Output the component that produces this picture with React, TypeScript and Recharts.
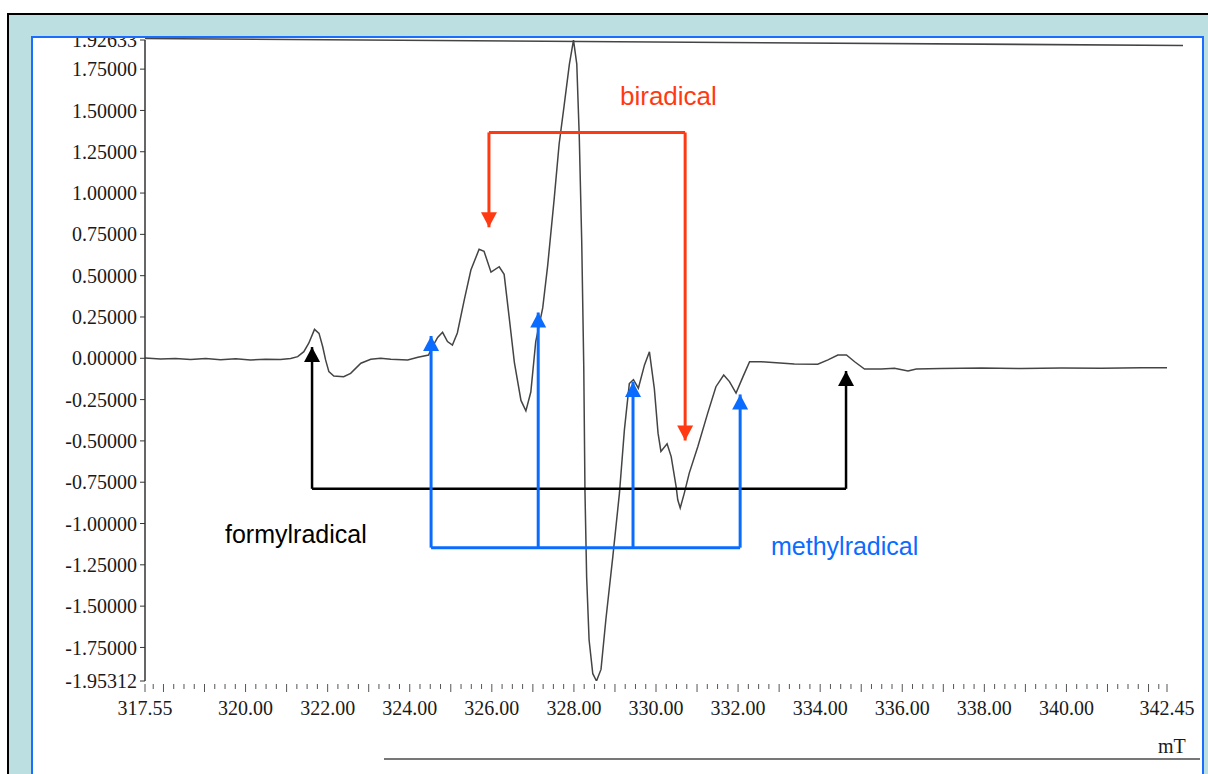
import React from 'react'
import {
  LineChart,
  Line,
  XAxis,
  YAxis,
  ReferenceLine,
  ReferenceDot,
} from 'recharts'

// magnetic field (mT) and EPR signal
const fieldValues = [
  317.55, 317.93, 318.29, 318.66, 319.03, 319.39, 319.76, 320.12, 320.49, 320.85,
  321.1, 321.27, 321.42, 321.54, 321.68, 321.79, 321.88, 321.95, 322.03, 322.15,
  322.39, 322.56, 322.81, 323.05, 323.29, 323.54, 323.95, 324.2, 324.46, 324.51,
  324.68, 324.8, 324.92, 325.04, 325.16, 325.33, 325.49, 325.69, 325.81, 325.98,
  326.18, 326.3, 326.42, 326.55, 326.71, 326.83, 326.95, 327.07, 327.24, 327.36,
  327.52, 327.64, 327.76, 327.89, 327.99, 328.07, 328.13, 328.19, 328.24, 328.27,
  328.31, 328.37, 328.46, 328.55, 328.66, 328.78, 328.95, 329.11, 329.23, 329.35,
  329.45, 329.57, 329.72, 329.84, 329.96, 330.05, 330.12, 330.27, 330.37, 330.49,
  330.53, 330.59, 330.69, 330.81, 331.02, 331.26, 331.46, 331.65, 331.79, 331.95,
  332.12, 332.28, 332.57, 333.37, 333.94, 334.19, 334.43, 334.64, 334.84, 335.08,
  335.49, 335.81, 336.14, 336.34, 336.95, 337.93, 338.9, 339.88, 340.85, 341.83,
  342.45,
]
const signalValues = [
  0.002, -0.004, -0.001, -0.007, -0.002, -0.009, -0.003, -0.01, -0.006, -0.007,
  -0.001, 0.01, 0.04, 0.091, 0.175, 0.151, 0.07, -0.01, -0.081, -0.107,
  -0.111, -0.091, -0.03, -0.006, 0.0, -0.006, -0.01, 0.006, 0.02, 0.05,
  0.126, 0.157, 0.101, 0.08, 0.153, 0.355, 0.534, 0.66, 0.648, 0.521,
  0.554, 0.508, 0.254, -0.026, -0.255, -0.318, -0.204, 0.101, 0.305, 0.559,
  0.966, 1.297, 1.526, 1.78, 1.926, 1.78, 1.347, 0.712, -0.051, -0.814,
  -1.324, -1.705, -1.909, -1.953, -1.883, -1.578, -1.196, -0.815, -0.433, -0.153,
  -0.129, -0.181, -0.04, 0.039, -0.185, -0.453, -0.564, -0.518, -0.595, -0.776,
  -0.856, -0.906, -0.816, -0.695, -0.534, -0.332, -0.172, -0.101, -0.141, -0.211,
  -0.111, -0.021, -0.021, -0.034, -0.036, -0.01, 0.02, 0.02, -0.021, -0.065,
  -0.065, -0.06, -0.077, -0.065, -0.062, -0.059, -0.062, -0.059, -0.06, -0.057,
  -0.058,
]

const xLabelTicks = [317.55, 320, 322, 324, 326, 328, 330, 332, 334, 336, 338, 340, 342.45]
const yTicks = [
  -1.95312, -1.75, -1.5, -1.25, -1, -0.75, -0.5, -0.25, 0, 0.25, 0.5, 0.75, 1, 1.25,
  1.5, 1.75, 1.92633,
]

// annotation brackets: arrow positions (mT), arrow tips and bar level (signal units)
const biradicalFields = [325.93, 330.71]
const biradicalTips = [0.793, -0.497]
const biradicalBar = 1.367
const formylFields = [321.62, 334.63]
const formylTips = [0.068, -0.077]
const formylBar = -0.79
const methylFields = [324.52, 327.13, 329.44, 332.05]
const methylTips = [0.135, 0.277, -0.143, -0.219]
const methylBar = -1.146

const RED = '#ff3a12'
const BLUE = '#0a6cff'
const BLACK = '#000'
const SERIF = "'Liberation Serif', 'Times New Roman', serif"
const SANS = "'Liberation Sans', Arial, sans-serif"

const data = fieldValues.map((f, i) => ({ field: f, signal: signalValues[i] }))

const minorTicks = Array.from({ length: 99 }, (_, i) => Math.round((317.75 + i * 0.25) * 100) / 100)
const allXTicks = Array.from(new Set([...xLabelTicks, ...minorTicks])).sort((a, b) => a - b)

function XTick(props: any) {
  const { x, y, payload } = props
  const v = payload.value as number
  const isLabel = xLabelTicks.some((t) => Math.abs(t - v) < 1e-6)
  const isMajor = isLabel || Math.abs(v - Math.round(v)) < 1e-6
  return (
    <g>
      <line x1={x} x2={x} y1={y + 3} y2={y + (isMajor ? 11 : 8)} stroke="#555" strokeWidth={1} />
      {isLabel && (
        <text x={x} y={y + 34} textAnchor="middle" fontSize={20} fontFamily={SERIF} fill="#1a1a1a">
          {v.toFixed(2)}
        </text>
      )}
    </g>
  )
}

const arrowUp = (color: string) => (p: any) => (
  <path d={`M${p.cx},${p.cy} l-8,15 l16,0 z`} fill={color} />
)
const arrowDown = (color: string) => (p: any) => (
  <path d={`M${p.cx},${p.cy} l-8,-15 l16,0 z`} fill={color} />
)

function bracket(
  key: string,
  fields: number[],
  tips: number[],
  bar: number,
  color: string,
  down: boolean,
  width: number,
) {
  const els: React.ReactNode[] = []
  els.push(
    <ReferenceLine
      key={`${key}-bar`}
      segment={[
        { x: fields[0], y: bar },
        { x: fields[fields.length - 1], y: bar },
      ]}
      stroke={color}
      strokeWidth={width}
      ifOverflow="visible"
    />,
  )
  fields.forEach((f, i) => {
    els.push(
      <ReferenceLine
        key={`${key}-v${i}`}
        segment={[
          { x: f, y: bar },
          { x: f, y: tips[i] },
        ]}
        stroke={color}
        strokeWidth={width}
        ifOverflow="visible"
      />,
    )
    els.push(
      <ReferenceDot
        key={`${key}-h${i}`}
        x={f}
        y={tips[i]}
        ifOverflow="visible"
        shape={down ? arrowDown(color) : arrowUp(color)}
      />,
    )
  })
  return els
}

export default function App() {
  return (
    <div
      style={{
        position: 'absolute',
        left: 0,
        top: 0,
        width: 1208,
        height: 774,
        overflow: 'hidden',
        background: '#fff',
      }}
    >
      <div
        style={{
          position: 'absolute',
          left: 7,
          top: 13,
          width: 1300,
          height: 900,
          border: '2px solid #000',
          background: '#bcdfe2',
        }}
      />
      <div
        style={{
          position: 'absolute',
          left: 31,
          top: 36,
          width: 1169,
          height: 900,
          border: '2px solid #1a6dff',
          background: '#fff',
          overflow: 'hidden',
        }}
      >
        <div style={{ position: 'absolute', left: -33, top: -38 }}>
          <LineChart width={1208} height={774} data={data} margin={{ top: 40, right: 41, left: 0, bottom: 0 }}>
            <XAxis
              dataKey="field"
              type="number"
              domain={[317.55, 342.45]}
              ticks={allXTicks}
              interval={0}
              axisLine={false}
              tickLine={false}
              tickSize={0}
              tickMargin={0}
              height={93}
              tick={<XTick />}
              allowDataOverflow
            />
            <YAxis
              type="number"
              domain={[-1.95312, 1.92633]}
              ticks={yTicks}
              interval={0}
              width={145}
              tickSize={5}
              tickMargin={3}
              tickFormatter={(v: number) => v.toFixed(5)}
              tick={{ fontSize: 20, fontFamily: SERIF, fill: '#1a1a1a' }}
              axisLine={{ stroke: '#333', strokeWidth: 1.5 }}
              tickLine={{ stroke: '#333' }}
              allowDataOverflow
            />
            <ReferenceLine
              segment={[
                { x: 317.55, y: 1.935 },
                { x: 342.84, y: 1.893 },
              ]}
              stroke="#444"
              strokeWidth={1.6}
              ifOverflow="visible"
            />
            <Line
              type="linear"
              dataKey="signal"
              stroke="#444"
              strokeWidth={1.5}
              dot={false}
              activeDot={false}
              isAnimationActive={false}
            />
            {bracket('bi', biradicalFields, biradicalTips, biradicalBar, RED, true, 3)}
            {bracket('fo', formylFields, formylTips, formylBar, BLACK, false, 2.5)}
            {bracket('me', methylFields, methylTips, methylBar, BLUE, false, 3)}
          </LineChart>
        </div>
      </div>
      <div style={{ position: 'absolute', left: 384, top: 758, width: 816, height: 1.5, background: '#777' }} />
      <div style={{ position: 'absolute', left: 620, top: 83, fontFamily: SANS, fontSize: 26, color: RED, lineHeight: 1 }}>
        biradical
      </div>
      <div style={{ position: 'absolute', left: 225, top: 522, fontFamily: SANS, fontSize: 25, color: BLACK, lineHeight: 1 }}>
        formylradical
      </div>
      <div style={{ position: 'absolute', left: 771, top: 534, fontFamily: SANS, fontSize: 25, color: BLUE, lineHeight: 1 }}>
        methylradical
      </div>
      <div style={{ position: 'absolute', left: 1158, top: 736, fontFamily: SERIF, fontSize: 20, color: '#1a1a1a', lineHeight: 1 }}>
        mT
      </div>
    </div>
  )
}
